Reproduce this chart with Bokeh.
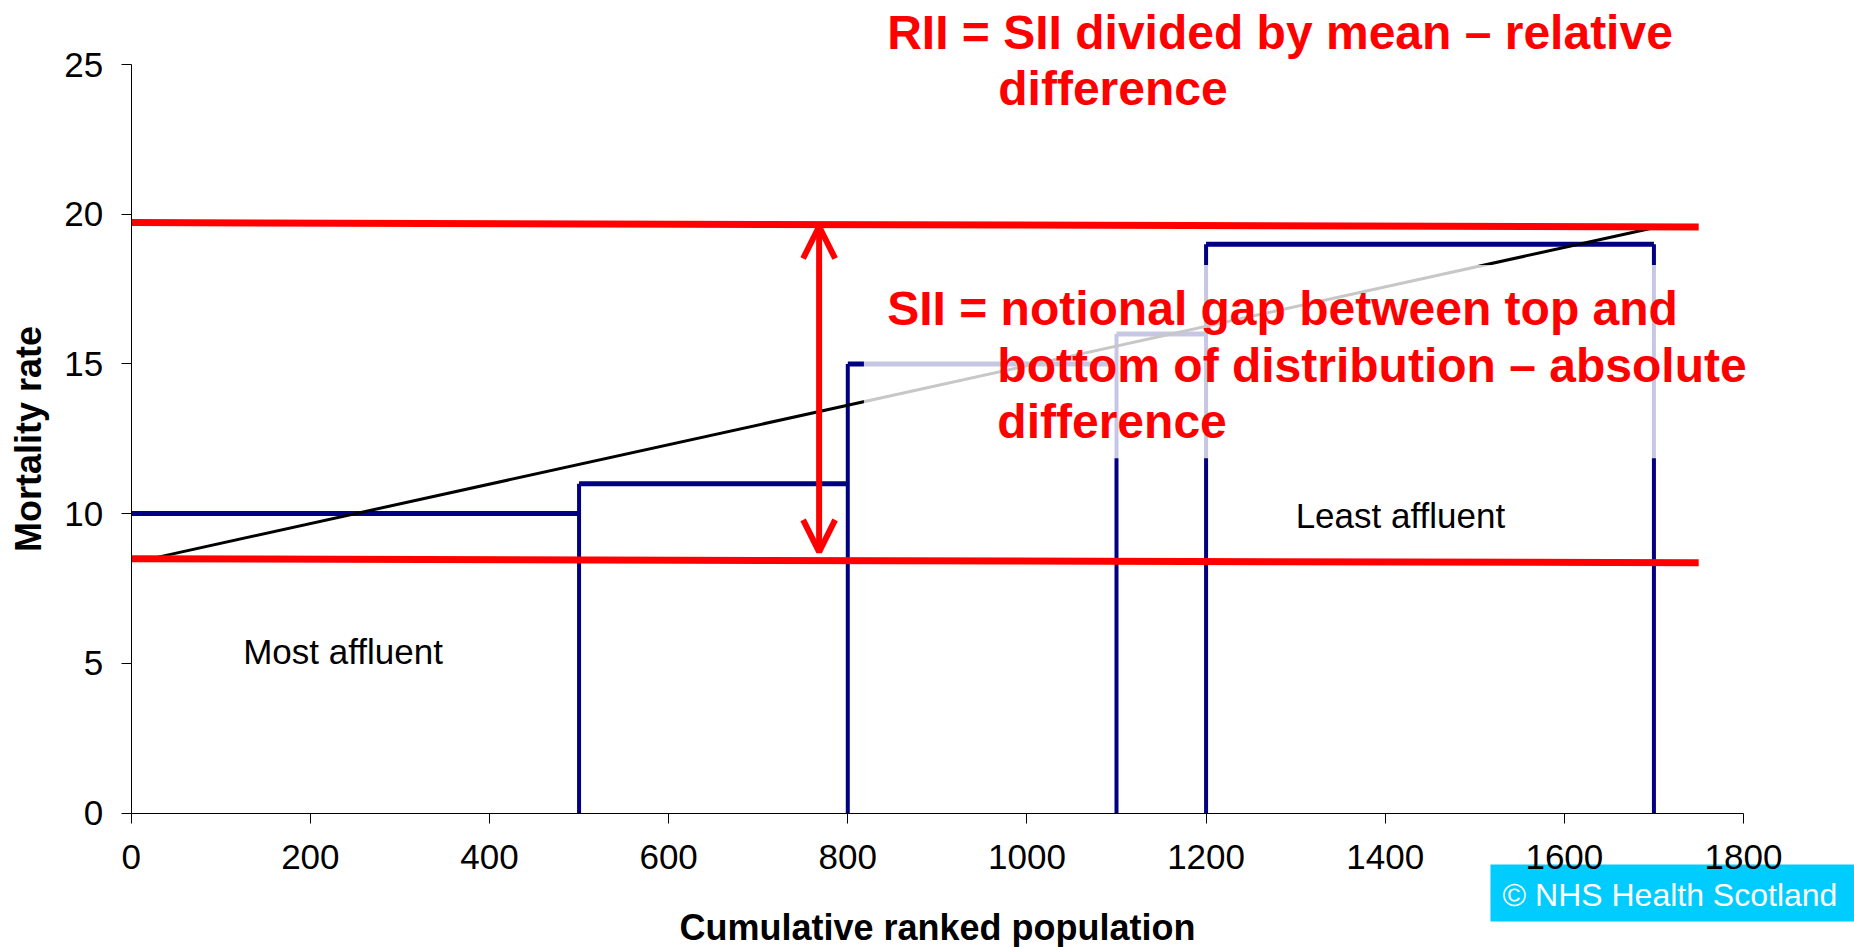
from bokeh.plotting import figure
from bokeh.models import FixedTicker, Arrow, OpenHead
from bokeh.core.properties import value
from bokeh.embed import file_html
from bokeh.resources import INLINE

# ---------------- data ----------------
group_bounds = [0, 500, 800, 1100, 1200, 1700]   # cumulative ranked population
group_rates = [10, 11, 15, 16, 19]               # mortality rate per group

trend_x = [20, 1700]          # fitted regression (slope index) line
trend_y = [8.48, 19.55]

upper_x = [0, 1750]           # top reference line
upper_y = [19.72, 19.57]
lower_x = [0, 1750]           # bottom reference line
lower_y = [8.49, 8.36]

arrow_x = 768
arrow_y = [8.72, 19.59]

fade_x = [818, 1820]          # semi-transparent text box behind SII note
fade_y = [11.85, 18.3]

x_ticks = [0, 200, 400, 600, 800, 1000, 1200, 1400, 1600, 1800]
y_ticks = [0, 5, 10, 15, 20, 25]

note_lines = ["RII = SII divided by mean \u2013 relative", "difference",
              "SII = notional gap between top and",
              "bottom of distribution \u2013 absolute", "difference"]
note_x = [844, 968, 844, 967, 967]
note_y = [26.07, 24.20, 16.86, 14.95, 13.08]

group_labels = ["Most affluent", "Least affluent"]
group_label_x = [125, 1300]
group_label_y = [5.40, 9.94]

credit_text = "\u00a9 NHS Health Scotland"

FONT = "Liberation Sans"
NAVY = "#000080"
RED = "#FF0000"

W, H = 1854, 947
X0_PX, X_PER = 130.7, (1743 - 130.7) / 1800.0
Y0_PX, Y_PER = 812.5, (812.5 - 64) / 25.0
x_range = (-X0_PX / X_PER, (W - X0_PX) / X_PER)
y_range = (-(H - Y0_PX) / Y_PER, Y0_PX / Y_PER)

p = figure(width=W, height=H, x_range=x_range, y_range=y_range,
           output_backend="svg", toolbar_location=None,
           min_border_left=0, min_border_right=0, min_border_top=0,
           min_border_bottom=0)
p.outline_line_color = None
p.xgrid.grid_line_color = None
p.ygrid.grid_line_color = None
p.background_fill_color = "white"
p.border_fill_color = "white"

# axes, pinned to the data origin
for ax, ticks, bnds in ((p.xaxis, x_ticks, (0, 1800)), (p.yaxis, y_ticks, (0, 25))):
    ax.fixed_location = 0
    ax.ticker = FixedTicker(ticks=ticks)
    ax.bounds = bnds
    ax.major_tick_out = 10
    ax.major_tick_in = 0
    ax.minor_tick_out = 0
    ax.minor_tick_in = 0
    ax.axis_line_color = "black"
    ax.major_tick_line_color = "black"
    ax.major_label_text_font = FONT
    ax.major_label_text_font_size = "35px"
    ax.major_label_text_color = "black"
    ax.axis_label_text_font = FONT
    ax.axis_label_text_font_size = "36px"
    ax.axis_label_text_font_style = "bold"
    ax.axis_label_text_color = "black"

p.xaxis.axis_label = "Cumulative ranked population"
p.yaxis.axis_label = "Mortality rate"
p.xaxis.major_label_standoff = 22
p.yaxis.major_label_standoff = 18
p.xaxis.axis_label_standoff = 34
p.yaxis.axis_label_standoff = 13

# step outline of the groups
hx0 = group_bounds[:-1]
hx1 = group_bounds[1:]
p.segment(x0=hx0, y0=group_rates, x1=hx1, y1=group_rates,
          line_color=NAVY, line_width=5)
vx = group_bounds[1:]
vtop = [max(group_rates[i - 1], group_rates[i]) if i < len(group_rates) else group_rates[i - 1]
        for i in range(1, len(group_bounds))]
p.segment(x0=vx, y0=[0] * len(vx), x1=vx, y1=vtop, line_color=NAVY, line_width=4)

# regression line
p.line(trend_x, trend_y, line_color="black", line_width=3)

# faded box behind the SII note
p.quad(left=[fade_x[0]], right=[fade_x[1]], bottom=[fade_y[0]], top=[fade_y[1]],
       fill_color="white", fill_alpha=0.78, line_color=None)

# red reference lines
p.line(upper_x, upper_y, line_color=RED, line_width=7)
p.line(lower_x, lower_y, line_color=RED, line_width=7)

# double arrow
p.add_layout(Arrow(x_start=arrow_x, y_start=arrow_y[0], x_end=arrow_x, y_end=arrow_y[1],
                   line_color=RED, line_width=6,
                   start=OpenHead(size=32, line_width=6, line_color=RED),
                   end=OpenHead(size=32, line_width=6, line_color=RED)))

# annotations
p.text(x=note_x, y=note_y, text=note_lines, text_font=value(FONT),
       text_font_style="bold", text_font_size="48px", text_color=RED,
       text_align="left", text_baseline="alphabetic")
p.text(x=group_label_x, y=group_label_y, text=group_labels,
       text_font=value(FONT), text_font_size="35px", text_color="black",
       text_align="left", text_baseline="alphabetic")

# copyright badge (bottom right, below the axis)
p.quad(left=[1517.5], right=[x_range[1]], top=[-1.72], bottom=[-3.62],
       fill_color="#00CCFF", line_color=None)
p.text(x=[1531], y=[-2.74], text=[credit_text], text_font=value(FONT),
       text_font_size="32px", text_color="white", text_align="left",
       text_baseline="alphabetic")

open("out.html", "w").write(file_html(p, INLINE))
